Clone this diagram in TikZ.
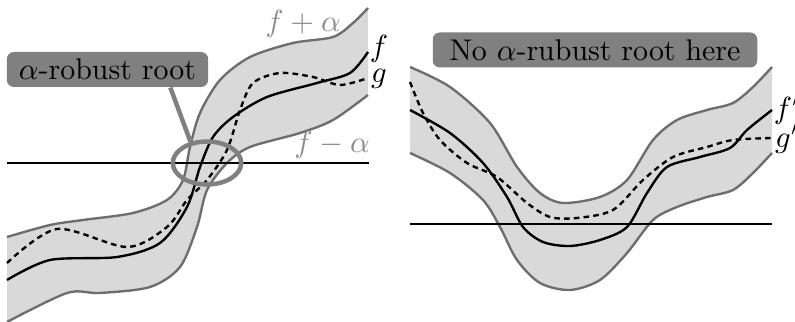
\documentclass[tikz,border=0pt]{standalone}
\usepackage{tikz}
\usetikzlibrary{positioning, shapes.geometric}
\tikzset{
  band/.style   = {fill=black!15},
  bound/.style  = {draw=black!57, line width=0.85pt},
  fcurve/.style = {draw=black, line width=0.85pt},
  gcurve/.style = {draw=black, line width=0.85pt, dash pattern=on 2pt off 1.5pt},
  axis/.style   = {draw=black, line width=0.85pt},
  tag/.style    = {fill=black!50, rounded corners=2.5pt, inner sep=0pt, minimum height=0.44cm, align=center}
}

\begin{document}
\begin{tikzpicture}[
  x=0.01258cm, y=-0.01258cm,
  font=\fontsize{10.7pt}{13pt}\selectfont,
  bandlabel/.style={text=black!45},
  curvelabel/.style={inner sep=0pt},
  ring/.style={draw=black!50, line width=1.6pt}
]
  \useasboundingbox (0,0) rectangle (795,322);

  % left: robust root
  \fill[band] plot[smooth] coordinates {(7,237) (50,225) (83,220) (133,213) (167,200) (183,180) (190,147) (200,113) (220,80) (250,57) (293,43) (333,37) (353,23) (368,8)}
    -- plot[smooth] coordinates {(368,95) (333,120) (300,133) (250,147) (227,163) (207,190) (197,227) (180,267) (150,287) (100,293) (67,293) (7,322)} -- cycle;
  \draw[bound] plot[smooth] coordinates {(7,237) (50,225) (83,220) (133,213) (167,200) (183,180) (190,147) (200,113) (220,80) (250,57) (293,43) (333,37) (353,23) (368,8)};
  \draw[bound] plot[smooth] coordinates {(368,95) (333,120) (300,133) (250,147) (227,163) (207,190) (197,227) (180,267) (150,287) (100,293) (67,293) (7,322)};
  \draw[axis] (7,163) -- (369,163);
  \draw[fcurve] plot[smooth] coordinates {(7,280) (50,260) (117,257) (160,243) (187,207) (200,167) (213,137) (233,117) (267,97) (317,83) (350,73) (368,52)};
  \draw[gcurve] plot[smooth] coordinates {(7,263) (57,229) (127,247) (167,227) (187,200) (207,180) (227,150) (240,110) (253,83) (280,73) (313,77) (340,85) (368,78)};

  \node[bandlabel] (fplus) at (303,24) {$f+\alpha$};
  \node[bandlabel] (fminus) at (332,145) {$f-\alpha$};
  \node[curvelabel] (f) at (379,49) {$f$};
  \node[curvelabel] (g) at (379,79) {$g$};

  \node[ellipse, ring, inner sep=0pt, minimum width=0.86cm, minimum height=0.54cm] (root) at (207,163) {};
  \node[tag, minimum width=2.53cm] (robust) at (107.5,69.5) {$\alpha$-robust root};
  \draw[ring] ([xshift=0.79cm]robust.south) -- (root.128);

  % right: no robust root
  \fill[band] plot[smooth] coordinates {(410,67) (450,87) (490,123) (517,167) (540,193) (563,203) (600,197) (627,180) (653,140) (677,120) (707,110) (733,103) (753,87) (772,67)}
    -- plot[smooth] coordinates {(772,153) (753,173) (733,190) (707,197) (677,207) (653,220) (627,253) (600,280) (570,290) (540,283) (517,260) (500,227) (483,200) (450,173) (410,153)} -- cycle;
  \draw[bound] plot[smooth] coordinates {(410,67) (450,87) (490,123) (517,167) (540,193) (563,203) (600,197) (627,180) (653,140) (677,120) (707,110) (733,103) (753,87) (772,67)};
  \draw[bound] plot[smooth] coordinates {(772,153) (753,173) (733,190) (707,197) (677,207) (653,220) (627,253) (600,280) (570,290) (540,283) (517,260) (500,227) (483,200) (450,173) (410,153)};
  \draw[axis] (410,224) -- (772,224);
  \draw[fcurve] plot[smooth] coordinates {(410,110) (450,133) (483,163) (507,197) (523,227) (543,242) (570,246) (600,240) (627,227) (647,193) (667,167) (700,157) (730,148) (747,130) (772,110)};
  \draw[gcurve] plot[smooth] coordinates {(410,82) (423,113) (440,140) (467,163) (497,177) (527,203) (550,217) (577,218) (613,210) (643,180) (673,157) (707,147) (733,140) (772,138)};

  \node[curvelabel] (f2) at (787,110) {$f'$};
  \node[curvelabel] (g2) at (787,139) {$g'$};

  \node[tag, minimum width=4.08cm] (norobust) at (595,50) {No $\alpha$-rubust root here};
\end{tikzpicture}
\end{document}
